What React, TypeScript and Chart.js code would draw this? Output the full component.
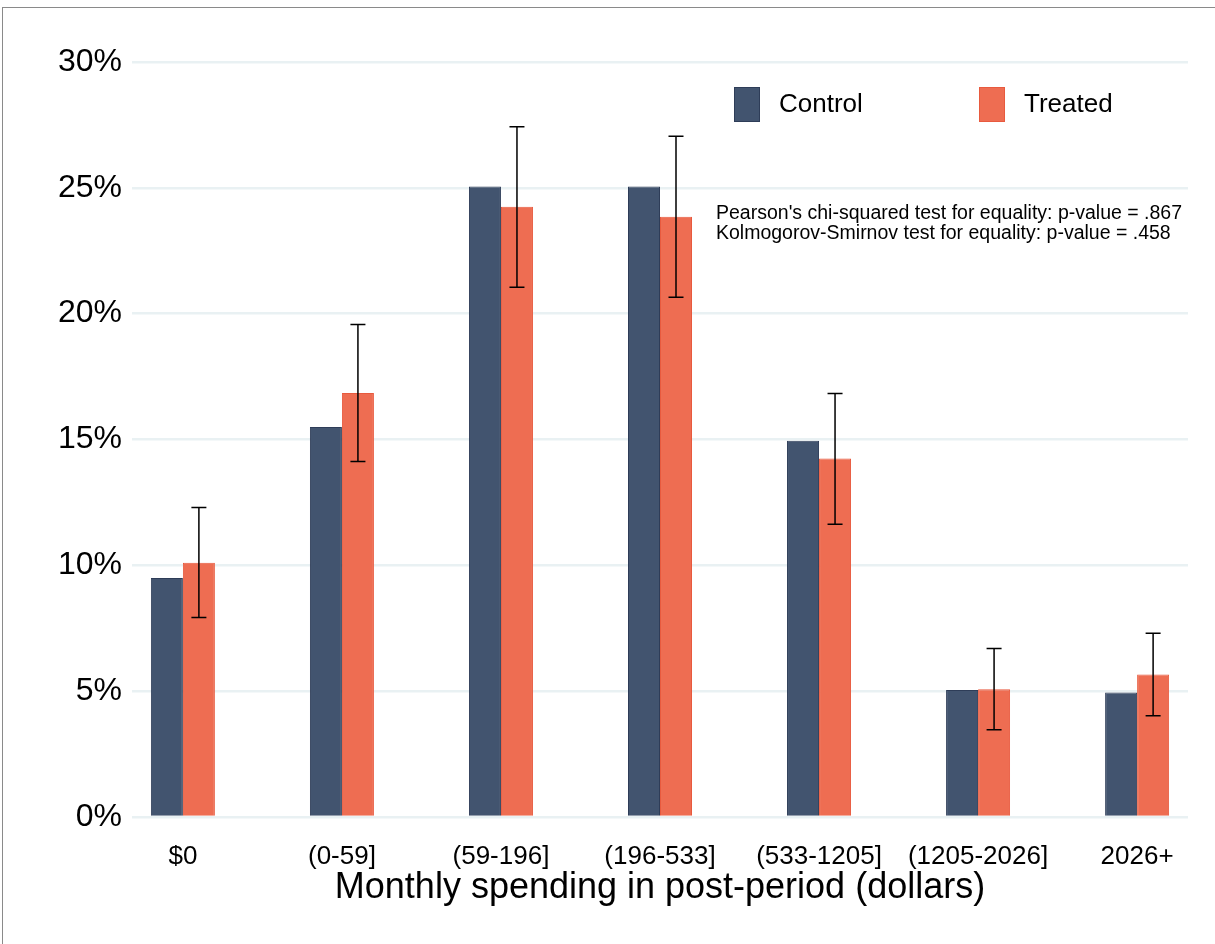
import React, { useEffect, useRef } from "react";
import { Chart, registerables } from "chart.js";

Chart.register(...registerables);

const categories = ["$0", "(0-59]", "(59-196]", "(196-533]", "(533-1205]", "(1205-2026]", "2026+"];
const controlValues = [9.5, 15.5, 25.05, 25.05, 14.95, 5.05, 4.95];
const treatedValues = [10.1, 16.85, 24.25, 23.85, 14.25, 5.08, 5.66];
const treatedLower = [7.93, 14.13, 21.05, 20.65, 11.63, 3.47, 4.02];
const treatedUpper = [12.3, 19.57, 27.43, 27.05, 16.83, 6.7, 7.3];
const yTicks = [0, 5, 10, 15, 20, 25, 30];
const seriesNames = ["Control", "Treated"];
const noteLines = [
  "Pearson's chi-squared test for equality: p-value = .867",
  "Kolmogorov-Smirnov test for equality: p-value = .458",
];
const xTitle = "Monthly spending in post-period (dollars)";

const FONT = "'Liberation Sans', Arial, Helvetica, sans-serif";
const CONTROL_FILL = "#42546f";
const CONTROL_BORDER = "#2e3d58";
const TREATED_FILL = "#ee6d52";
const TREATED_BORDER = "#e85a3e";

const errorBarPlugin = {
  id: "errorBars",
  afterDatasetsDraw(chart: any) {
    const meta = chart.getDatasetMeta(1);
    const yScale = chart.scales.y;
    const ctx = chart.ctx;
    ctx.save();
    ctx.strokeStyle = "#000000";
    ctx.lineWidth = 1.5;
    meta.data.forEach((el: any, i: number) => {
      const x = el.x;
      const yl = yScale.getPixelForValue(treatedLower[i]);
      const yu = yScale.getPixelForValue(treatedUpper[i]);
      const cap = 7.5;
      ctx.beginPath();
      ctx.moveTo(x, yl);
      ctx.lineTo(x, yu);
      ctx.moveTo(x - cap, yu);
      ctx.lineTo(x + cap, yu);
      ctx.moveTo(x - cap, yl);
      ctx.lineTo(x + cap, yl);
      ctx.stroke();
    });
    ctx.restore();
  },
};

const overlayPlugin = {
  id: "overlay",
  afterDraw(chart: any) {
    const ctx = chart.ctx;
    ctx.save();
    const items = [
      { x: 734, fill: CONTROL_FILL, border: CONTROL_BORDER, label: seriesNames[0] },
      { x: 979, fill: TREATED_FILL, border: TREATED_BORDER, label: seriesNames[1] },
    ];
    ctx.font = `26px ${FONT}`;
    ctx.textBaseline = "middle";
    ctx.textAlign = "left";
    items.forEach((it) => {
      ctx.fillStyle = it.fill;
      ctx.fillRect(it.x, 87, 26, 35);
      ctx.strokeStyle = it.border;
      ctx.lineWidth = 1;
      ctx.strokeRect(it.x + 0.5, 87.5, 25, 34);
      ctx.fillStyle = "#000000";
      ctx.fillText(it.label, it.x + 45, 105);
    });
    ctx.font = `19.5px ${FONT}`;
    ctx.fillStyle = "#000000";
    noteLines.forEach((line, i) => {
      ctx.fillText(line, 716, 214 + i * 20);
    });
    ctx.restore();
  },
};

export default function App() {
  const canvasRef = useRef<HTMLCanvasElement | null>(null);

  useEffect(() => {
    if (!canvasRef.current) return;
    const chart = new Chart(canvasRef.current, {
      type: "bar",
      data: {
        datasets: [
          {
            label: seriesNames[0],
            data: controlValues.map((v, i) => ({ x: i, y: v })),
            backgroundColor: CONTROL_FILL,
            borderColor: CONTROL_BORDER,
            borderWidth: 1,
          },
          {
            label: seriesNames[1],
            data: treatedValues.map((v, i) => ({ x: i, y: v })),
            backgroundColor: TREATED_FILL,
            borderColor: TREATED_BORDER,
            borderWidth: 1,
          },
        ],
      },
      options: {
        responsive: false,
        animation: false,
        devicePixelRatio: 1,
        categoryPercentage: 0.4025,
        barPercentage: 1,
        layout: { padding: { left: 0, right: 27, top: 62, bottom: 0 } },
        plugins: {
          legend: { display: false },
          tooltip: { enabled: false },
          title: { display: false },
        },
        scales: {
          x: {
            type: "linear",
            offset: false,
            min: -0.32,
            max: 6.32,
            grid: { display: false, offset: false },
            border: { display: false },
            afterBuildTicks: (scale: any) => {
              scale.ticks = categories.map((_, i) => ({ value: i }));
            },
            afterFit: (scale: any) => {
              scale.height = 127;
            },
            ticks: {
              autoSkip: false,
              maxRotation: 0,
              padding: 16,
              color: "#000000",
              font: { family: FONT, size: 26 },
              callback: (v: any) => categories[Math.round(Number(v))] ?? "",
            },
            title: {
              display: true,
              text: xTitle,
              color: "#000000",
              font: { family: FONT, size: 36 },
              padding: { top: 0, bottom: 34 },
            },
          },
          y: {
            min: 0,
            max: 30,
            afterBuildTicks: (scale: any) => {
              scale.ticks = yTicks.map((v) => ({ value: v }));
            },
            afterFit: (scale: any) => {
              scale.width = 132;
            },
            grid: { color: "#e9f1f3", lineWidth: 2.5, drawTicks: false },
            border: { display: false },
            ticks: {
              padding: 10,
              color: "#000000",
              font: { family: FONT, size: 32 },
              callback: (v: any) => `${v}%`,
            },
          },
        },
      },
      plugins: [errorBarPlugin, overlayPlugin],
    });
    return () => chart.destroy();
  }, []);

  return (
    <div
      style={{
        position: "absolute",
        left: 0,
        top: 0,
        width: 1215,
        height: 944,
        overflow: "hidden",
        background: "#ffffff",
      }}
    >
      <div
        style={{
          position: "absolute",
          left: 2,
          top: 7,
          width: 1400,
          height: 1100,
          borderTop: "1px solid #8a8a8a",
          borderLeft: "1px solid #8a8a8a",
        }}
      />
      <canvas
        ref={canvasRef}
        width={1215}
        height={944}
        style={{ position: "absolute", left: 0, top: 0, width: 1215, height: 944 }}
      />
    </div>
  );
}
